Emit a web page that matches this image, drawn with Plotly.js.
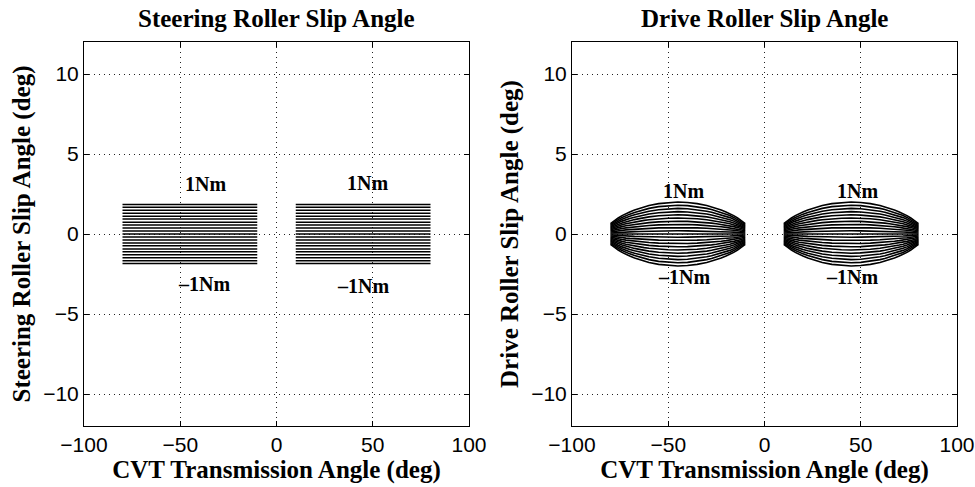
<!DOCTYPE html>
<html>
<head>
<meta charset="utf-8">
<script src="https://cdn.plot.ly/plotly-3.0.1.min.js"></script>
<style>
  html, body { margin: 0; padding: 0; background: #fff; }
  #chart { width: 975px; height: 487px; }
</style>
</head>
<body>
<div id="chart"></div>
<script>
// ---- Data ----
// Torque levels (Nm) for each plotted line
const torqueLevels = [-1, -0.9, -0.8, -0.7, -0.6, -0.5, -0.4, -0.3, -0.2, -0.1, 0,
                      0.1, 0.2, 0.3, 0.4, 0.5, 0.6, 0.7, 0.8, 0.9, 1];

// Steering roller slip angle (deg), constant along transmission angle, one per torque level
const steerSlip = [-1.85, -1.67, -1.48, -1.30, -1.11, -0.93, -0.74, -0.56, -0.37, -0.19, 0,
                   0.19, 0.37, 0.56, 0.74, 0.93, 1.11, 1.30, 1.48, 1.67, 1.85];
const steerXLeft = [-80, -10];
const steerXRight = [10, 80];

// Drive roller slip angle envelope (deg at 1 Nm) vs transmission angle (deg)
const driveXLeft  = [-80, -78, -76, -74, -72, -70, -67.5, -65, -62.5, -60, -55, -50, -45,
                     -40, -35, -30, -27.5, -25, -22.5, -20, -18, -16, -14, -12, -10];
const driveXRight = [10, 12, 14, 16, 18, 20, 22.5, 25, 27.5, 30, 35, 40, 45,
                     50, 55, 60, 62.5, 65, 67.5, 70, 72, 74, 76, 78, 80];
const driveEnvelope = [0.65, 0.85, 1.0, 1.15, 1.28, 1.38, 1.5, 1.6, 1.7, 1.78, 1.9, 1.97, 2.0,
                       1.97, 1.9, 1.78, 1.7, 1.6, 1.5, 1.38, 1.28, 1.15, 1.0, 0.85, 0.65];

// Text labels
const steerLabels = [
  {x: -37, y: 3.1, text: '1Nm'}, {x: -37.5, y: -3.1, text: '\u20131Nm'},
  {x: 47.5, y: 3.2, text: '1Nm'}, {x: 45, y: -3.25, text: '\u20131Nm'}
];
const driveLabels = [
  {x: -42, y: 2.7, text: '1Nm'}, {x: -42, y: -2.7, text: '\u20131Nm'},
  {x: 48.5, y: 2.7, text: '1Nm'}, {x: 45.5, y: -2.7, text: '\u20131Nm'}
];
const xTicks = [-100, -50, 0, 50, 100];
const yTicks = [-10, -5, 0, 5, 10];

// ---- Traces ----
const traces = [];
steerSlip.forEach(v => {
  [steerXLeft, steerXRight].forEach(xs => {
    traces.push({
      x: xs, y: xs.map(() => v), xaxis: 'x', yaxis: 'y',
      type: 'scatter', mode: 'lines', line: {color: '#000', width: 1.5},
      showlegend: false, hoverinfo: 'skip'
    });
  });
});
torqueLevels.forEach(t => {
  [driveXLeft, driveXRight].forEach(xs => {
    traces.push({
      x: xs, y: driveEnvelope.map(e => e * t), xaxis: 'x2', yaxis: 'y2',
      type: 'scatter', mode: 'lines', line: {color: '#000', width: 1.6},
      showlegend: false, hoverinfo: 'skip'
    });
  });
});

const serif = 'Liberation Serif, Times New Roman, serif';
const sans = 'Liberation Sans, Arial, Helvetica, sans-serif';

function xAxis(domain, anchor) {
  return {
    domain: domain, anchor: anchor, range: [-100, 100], tickvals: xTicks,
    showgrid: true, gridcolor: '#222', griddash: '1px,4px', gridwidth: 1,
    zeroline: false, showline: true, linecolor: '#000', linewidth: 1, mirror: 'ticks',
    ticks: 'inside', ticklen: 5, tickcolor: '#000',
    tickfont: {family: sans, size: 21, color: '#000'},
    title: {text: '<b>CVT Transmission Angle (deg)</b>', font: {family: serif, size: 25, color: '#000'}, standoff: 4},
    automargin: false, fixedrange: true
  };
}
function yAxis(domain, anchor, title) {
  return {
    domain: domain, anchor: anchor, range: [-12, 12], tickvals: yTicks,
    showgrid: true, gridcolor: '#222', griddash: '1px,4px', gridwidth: 1,
    zeroline: false, showline: true, linecolor: '#000', linewidth: 1, mirror: 'ticks',
    ticks: 'inside', ticklen: 5, tickcolor: '#000',
    tickfont: {family: sans, size: 21, color: '#000'},
    title: {text: title, font: {family: serif, size: 25, color: '#000'}, standoff: 5},
    automargin: false, fixedrange: true
  };
}

const yDom = [1 - 426/487, 1 - 42/487];
const annotations = [];
steerLabels.forEach(l => annotations.push({x: l.x, y: l.y, xref: 'x', yref: 'y', text: '<b>' + l.text + '</b>', showarrow: false,
  xanchor: 'center', yanchor: 'middle', font: {family: serif, size: 20, color: '#000'}}));
driveLabels.forEach(l => annotations.push({x: l.x, y: l.y, xref: 'x2', yref: 'y2', text: '<b>' + l.text + '</b>', showarrow: false,
  xanchor: 'center', yanchor: 'middle', font: {family: serif, size: 20, color: '#000'}}));
annotations.push({x: (84 + 469) / 2 / 975, y: 1 - 19/487, xref: 'paper', yref: 'paper', text: '<b>Steering Roller Slip Angle</b>',
  showarrow: false, xanchor: 'center', yanchor: 'middle', font: {family: serif, size: 25, color: '#000'}});
annotations.push({x: (572 + 957) / 2 / 975, y: 1 - 19/487, xref: 'paper', yref: 'paper', text: '<b>Drive Roller Slip Angle</b>',
  showarrow: false, xanchor: 'center', yanchor: 'middle', font: {family: serif, size: 25, color: '#000'}});

const layout = {
  width: 975, height: 487,
  margin: {l: 0, r: 0, t: 0, b: 0},
  paper_bgcolor: '#fff', plot_bgcolor: '#fff',
  showlegend: false,
  xaxis: xAxis([84/975, 469/975], 'y'),
  yaxis: yAxis(yDom, 'x', '<b>Steering Roller Slip Angle (deg)</b>'),
  xaxis2: xAxis([572/975, 957/975], 'y2'),
  yaxis2: yAxis(yDom, 'x2', '<b>Drive Roller Slip Angle (deg)</b>'),
  annotations: annotations
};

Plotly.newPlot('chart', traces, layout, {staticPlot: true, displayModeBar: false});
</script>
</body>
</html>
